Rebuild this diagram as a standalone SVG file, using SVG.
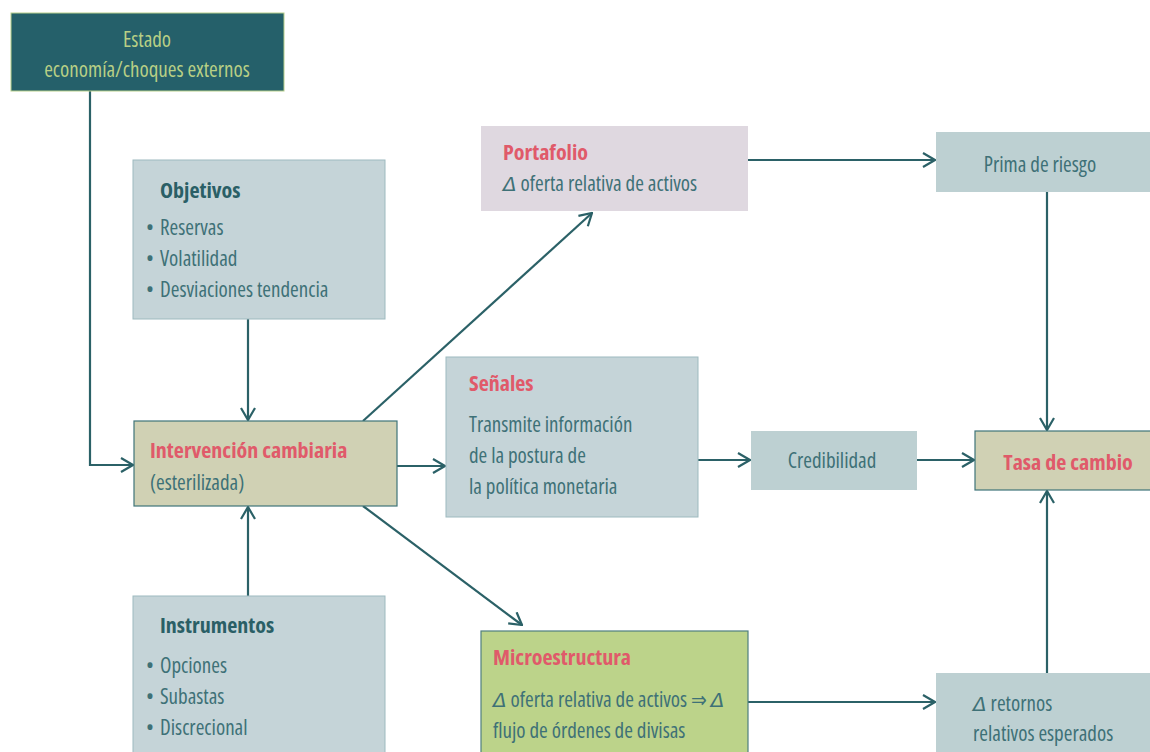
<svg xmlns="http://www.w3.org/2000/svg" width="1150" height="752" viewBox="0 0 1150 752">
<defs>
<marker id="arr" viewBox="0 0 14 16" refX="13" refY="8" markerWidth="14" markerHeight="16" markerUnits="userSpaceOnUse" orient="auto">
<path d="M1,1 L13,8 L1,15" fill="none" stroke="#2b6167" stroke-width="2.2"/>
</marker>
<style>
text{font-family:"Open Sans","DejaVu Sans",sans-serif;font-stretch:75%;font-size:21px;fill:#3e7177}
.t{font-weight:bold;fill:#e05a6a;font-size:22px}
.h{font-weight:bold;fill:#2a5f66;font-size:22px}
.d{font-family:"DejaVu Sans",sans-serif;font-style:oblique;font-stretch:normal;font-size:20px}
.blue{fill:#c5d4d8;stroke:#9dbabf;stroke-width:1}
.tan{fill:#d0d1b4;stroke:#3f7479;stroke-width:1.2}
.c{stroke:#2b6167;stroke-width:2.2;fill:none;marker-end:url(#arr)}
.mid{text-anchor:middle}
</style>
</defs>
<rect width="1150" height="752" fill="#ffffff"/>
<g id="connectors">
<path class="c" d="M90,91 V465 H133"/>
<path class="c" d="M248,319 V420"/>
<path class="c" d="M248,596 V507"/>
<path class="c" d="M397,466 H445"/>
<path class="c" d="M363,421 L592,213"/>
<path class="c" d="M363,506 L522,625"/>
<path class="c" d="M748,160 H935"/>
<path class="c" d="M1047,192 V430"/>
<path class="c" d="M698,460 H750"/>
<path class="c" d="M917,460 H974"/>
<path class="c" d="M748,702 H935"/>
<path class="c" d="M1047,673 V491"/>
</g>
<g id="estado">
<rect x="11" y="13" width="273" height="78" fill="#25606a" stroke="#b7cf8b" stroke-width="1"/>
<text class="mid" x="147" y="47" style="fill:#b8cf85">Estado</text>
<text class="mid" x="147" y="77" style="fill:#b8cf85">economía/choques externos</text>
</g>
<g id="objetivos">
<rect class="blue" x="133" y="160" width="252" height="159"/>
<text class="h" x="160" y="198">Objetivos</text>
<text y="235"><tspan x="146">•</tspan><tspan x="160">Reservas</tspan></text>
<text y="266"><tspan x="146">•</tspan><tspan x="160">Volatilidad</tspan></text>
<text y="297"><tspan x="146">•</tspan><tspan x="160">Desviaciones tendencia</tspan></text>
</g>
<g id="intervencion">
<rect class="tan" x="134" y="421" width="263" height="85"/>
<text class="t" x="150" y="458">Intervención cambiaria</text>
<text x="150" y="490">(esterilizada)</text>
</g>
<g id="instrumentos">
<rect class="blue" x="133" y="596" width="252" height="160"/>
<text class="h" x="160" y="633">Instrumentos</text>
<text y="673"><tspan x="146">•</tspan><tspan x="160">Opciones</tspan></text>
<text y="704"><tspan x="146">•</tspan><tspan x="160">Subastas</tspan></text>
<text y="735"><tspan x="146">•</tspan><tspan x="160">Discrecional</tspan></text>
</g>
<g id="portafolio">
<rect x="481" y="126" width="267" height="85" fill="#dfd8e0"/>
<text class="t" x="503" y="160">Portafolio</text>
<text x="503" y="191"><tspan class="d">Δ</tspan> oferta relativa de activos</text>
</g>
<g id="senales">
<rect class="blue" x="446" y="357" width="252" height="160"/>
<text class="t" x="469" y="391">Señales</text>
<text x="469" y="432">Transmite información</text>
<text x="469" y="463">de la postura de</text>
<text x="469" y="494">la política monetaria</text>
</g>
<g id="microestructura">
<rect x="481" y="631" width="267" height="125" fill="#bcd38a" stroke="#4f7f7f" stroke-width="1.2"/>
<text class="t" x="493" y="665">Microestructura</text>
<text x="493" y="707"><tspan class="d">Δ</tspan> oferta relativa de activos <tspan font-family="DejaVu Sans" font-size="21">⇒</tspan> <tspan class="d">Δ</tspan></text>
<text x="493" y="738">flujo de órdenes de divisas</text>
</g>
<g id="prima">
<rect x="936" y="132" width="220" height="60" fill="#bdd0d2"/>
<text class="mid" x="1040" y="172">Prima de riesgo</text>
</g>
<g id="credibilidad">
<rect x="751" y="431" width="166" height="59" fill="#bdd0d2"/>
<text class="mid" x="832" y="468">Credibilidad</text>
</g>
<g id="tasa">
<rect class="tan" x="975" y="431" width="180" height="59"/>
<text class="t mid" x="1068" y="470">Tasa de cambio</text>
</g>
<g id="retornos">
<rect x="936" y="673" width="220" height="83" fill="#bdd0d2"/>
<text x="973" y="711"><tspan class="d">Δ</tspan> retornos</text>
<text x="973" y="741">relativos esperados</text>
</g>
</svg>
